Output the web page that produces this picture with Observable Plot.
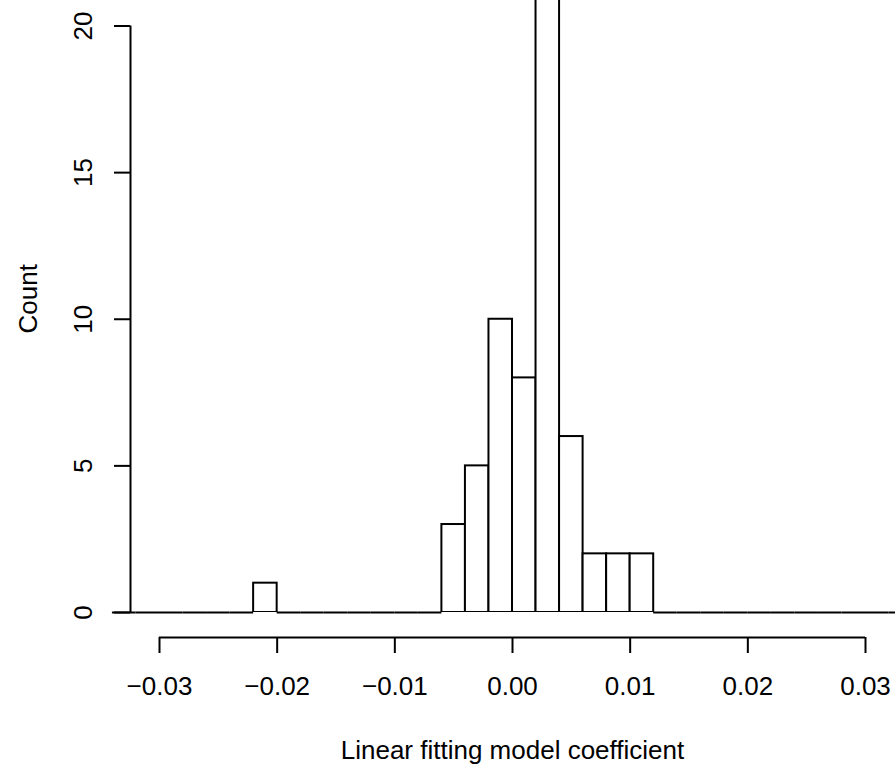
<!DOCTYPE html>
<html>
<head>
<meta charset="utf-8">
<script src="https://cdn.jsdelivr.net/npm/d3@7"></script>
<script src="https://cdn.jsdelivr.net/npm/@observablehq/plot@0.6"></script>
<style>
  html, body { margin: 0; padding: 0; background: white; }
  #chart svg { display: block; }
</style>
</head>
<body>
<div id="chart"></div>
<script>
// Histogram bins (left edges) and counts
const binLeft = [-0.034,-0.032,-0.030,-0.028,-0.026,-0.024,-0.022,-0.020,-0.018,-0.016,-0.014,-0.012,-0.010,-0.008,-0.006,-0.004,-0.002,0.000,0.002,0.004,0.006,0.008,0.010,0.012,0.014,0.016,0.018,0.020,0.022,0.024,0.026,0.028,0.030,0.032,0.034];
const counts  = [0,0,0,0,0,0,1,0,0,0,0,0,0,0,3,5,10,8,22,6,2,2,2,0,0,0,0,0,0,0,0,0,0,0,0];
const binWidth = 0.002;

const xTicks = [-0.03,-0.02,-0.01,0.00,0.01,0.02,0.03];
const xTickLabels = ["\u22120.03","\u22120.02","\u22120.01","0.00","0.01","0.02","0.03"];
const yTicks = [0,5,10,15,20];
const yTickLabels = ["0","5","10","15","20"];
const xTitle = "Linear fitting model coefficient";
const yTitle = "Count";

const bins = binLeft.map((x1, i) => ({x1, x2: x1 + binWidth, count: counts[i]}));
const filled = bins.filter(d => d.count > 0);
const empty = bins.filter(d => d.count === 0);

const chart = Plot.plot({
  width: 895,
  height: 766,
  marginLeft: 159,
  marginRight: 30,
  marginTop: 0,
  marginBottom: 154,
  style: {fontFamily: "'Liberation Sans', Arial, Helvetica, sans-serif", fontSize: "26px", background: "white", color: "black", overflow: "visible"},
  x: {domain: [xTicks[0], xTicks[xTicks.length-1]], range: [159, 865], label: null},
  y: {domain: [yTicks[0], yTicks[yTicks.length-1]], range: [612, 25.5], label: null},
  marks: [
    // zero-count bins drawn as flat segments on the baseline
    Plot.ruleY(empty, {x1: "x1", x2: "x2", y: 0, stroke: "black", strokeWidth: 2}),
    Plot.rectY(filled, {x1: "x1", x2: "x2", y1: 0, y2: "count", fill: "white", stroke: "black", strokeWidth: 2, clip: true}),
    // x axis
    Plot.ruleY([0], {x1: xTicks[0], x2: xTicks[xTicks.length-1], dy: 25, stroke: "black", strokeWidth: 2}),
    Plot.axisX({anchor: "bottom", ticks: xTicks, tickSize: 16, tickPadding: 23, dy: 25, strokeWidth: 2, label: null,
      tickFormat: d => xTickLabels[xTicks.indexOf(d)], fontSize: 26}),
    // y axis
    Plot.ruleX([xTicks[0]], {y1: yTicks[0], y2: yTicks[yTicks.length-1], dx: -29, stroke: "black", strokeWidth: 2}),
    Plot.axisY({anchor: "left", ticks: yTicks, tickSize: 16, tickPadding: 23, tickRotate: -90, dx: -29, strokeWidth: 2, label: null,
      tickFormat: d => yTickLabels[yTicks.indexOf(d)], fontSize: 26}),
    // titles
    Plot.text([xTitle], {frameAnchor: "bottom", lineAnchor: "bottom", dy: 146, fontSize: 26, fill: "black"}),
    Plot.text([yTitle], {frameAnchor: "left", lineAnchor: "bottom", rotate: -90, dx: -123, dy: 27, fontSize: 26, fill: "black"})
  ]
});
document.getElementById("chart").appendChild(chart);
</script>
</body>
</html>
